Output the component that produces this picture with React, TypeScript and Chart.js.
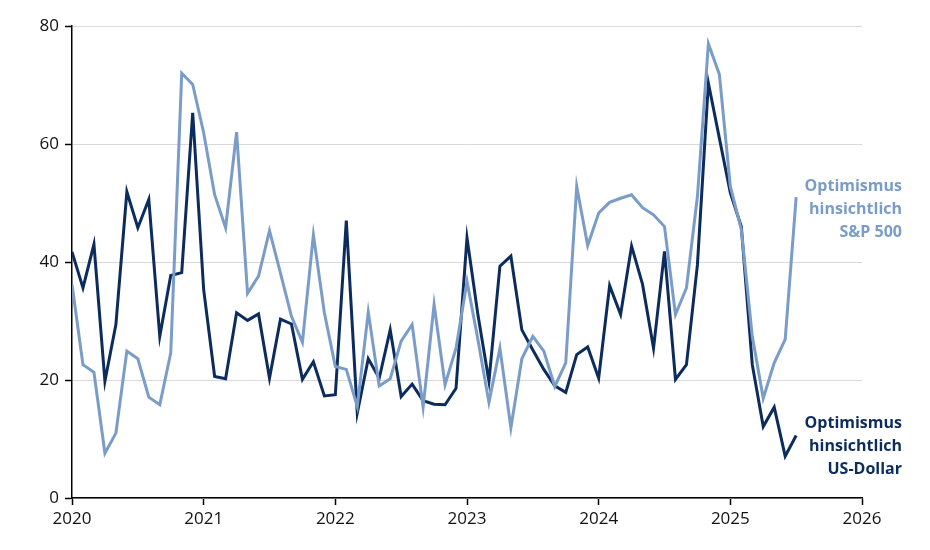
import React, { useEffect, useRef } from "react";
import { Chart, registerables } from "chart.js";

Chart.register(...registerables);

const startYear = 2020;
const yearTicks = ["2020", "2021", "2022", "2023", "2024", "2025", "2026"];
const yTicks = [0, 20, 40, 60, 80];

// Monthly values, Jan 2020 – Jul 2025
const usdOptimism = [
  41.7, 35.6, 43.0, 19.8, 29.4, 51.9, 45.8, 50.6, 27.4, 37.7, 38.2, 65.3,
  35.3, 20.6, 20.2, 31.4, 30.1, 31.2, 20.3, 30.3, 29.5, 20.1, 23.1, 17.3,
  17.5, 47.0, 14.4, 23.6, 20.3, 28.5, 17.2, 19.3, 16.5, 15.9, 15.8, 18.6,
  44.1, 31.0, 19.8, 39.3, 41.0, 28.5, 25.1, 21.8, 19.0, 17.9, 24.3, 25.6,
  20.3, 36.0, 31.1, 42.7, 36.2, 25.4, 41.8, 20.1, 22.6, 39.5, 70.3, 61.0,
  51.7, 46.0, 22.6, 12.1, 15.4, 7.1, 10.6,
];

const spxOptimism = [
  36.2, 22.6, 21.3, 7.6, 11.0, 24.9, 23.6, 17.1, 15.8, 24.6, 72.0, 70.1,
  61.9, 51.4, 45.8, 62.0, 34.7, 37.6, 45.3, 38.1, 30.8, 26.4, 44.6, 31.4,
  22.3, 21.8, 15.5, 31.5, 19.0, 20.2, 26.6, 29.4, 15.4, 32.8, 19.2, 25.4,
  36.7, 26.8, 16.2, 25.4, 11.9, 23.6, 27.4, 24.9, 18.9, 22.9, 52.8, 42.8,
  48.3, 50.1, 50.8, 51.4, 49.2, 48.0, 46.0, 31.1, 35.6, 51.1, 77.0, 71.8,
  52.8, 45.5, 27.4, 16.9, 22.9, 26.9, 51.0,
];

const spxLabel = ["Optimismus", "hinsichtlich", "S&P 500"];
const usdLabel = ["Optimismus", "hinsichtlich", "US-Dollar"];

const DARK = "#0d2c5e";
const LIGHT = "#7a9cc8";

const toPoints = (arr: number[]) => arr.map((v, i) => ({ x: i, y: v }));

const labelPlugin = {
  id: "seriesLabels",
  afterDraw(chart: any) {
    const ctx = chart.ctx;
    ctx.save();
    ctx.font = "bold 16px 'Open Sans', sans-serif";
    ctx.textAlign = "right";
    ctx.textBaseline = "middle";
    const x = 902;
    ctx.fillStyle = LIGHT;
    spxLabel.forEach((t, i) => ctx.fillText(t, x, 186 + i * 23));
    ctx.fillStyle = DARK;
    usdLabel.forEach((t, i) => ctx.fillText(t, x, 423 + i * 23));
    ctx.restore();
  },
};

export default function App() {
  const ref = useRef<HTMLCanvasElement>(null);

  useEffect(() => {
    if (!ref.current) return;
    const chart = new Chart(ref.current, {
      type: "line",
      data: {
        datasets: [
          {
            label: "Optimismus hinsichtlich S&P 500",
            data: toPoints(spxOptimism),
            borderColor: LIGHT,
            borderWidth: 3,
            pointRadius: 0,
            tension: 0,
          },
          {
            label: "Optimismus hinsichtlich US-Dollar",
            data: toPoints(usdOptimism),
            borderColor: DARK,
            borderWidth: 3,
            pointRadius: 0,
            tension: 0,
          },
        ],
      },
      options: {
        animation: false,
        responsive: false,
        maintainAspectRatio: false,
        layout: { padding: { top: 26, right: 68, left: 0, bottom: 0 } },
        plugins: {
          legend: { display: false },
          tooltip: { enabled: false },
        },
        scales: {
          x: {
            type: "linear",
            min: 0,
            max: (yearTicks.length - 1) * 12,
            afterBuildTicks: (scale: any) => {
              scale.ticks = yearTicks.map((_, i) => ({ value: i * 12 }));
            },
            ticks: {
              callback: (v: any) => String(startYear + Math.round(Number(v) / 12)),
              color: "#111",
              font: { family: "'Open Sans', sans-serif", size: 17 },
              padding: 4,
              maxRotation: 0,
            },
            grid: {
              drawOnChartArea: false,
              drawTicks: true,
              tickLength: 7,
              tickColor: "#000",
              tickWidth: 1.5,
            },
            border: { display: true, color: "#000", width: 1.5 },
            afterFit: (scale: any) => {
              scale.height = 52;
            },
          },
          y: {
            min: 0,
            max: 80,
            afterBuildTicks: (scale: any) => {
              scale.ticks = yTicks.map((v) => ({ value: v }));
            },
            ticks: {
              color: "#111",
              font: { family: "'Open Sans', sans-serif", size: 17 },
              padding: 6,
            },
            grid: {
              color: "#d9d9d9",
              lineWidth: 1,
              drawTicks: true,
              tickLength: 7,
              tickColor: "#000",
              tickWidth: 1.5,
            },
            border: { display: true, color: "#000", width: 1.5 },
            afterFit: (scale: any) => {
              scale.width = 72;
            },
          },
        },
      },
      plugins: [labelPlugin],
    });
    return () => chart.destroy();
  }, []);

  return (
    <div style={{ position: "fixed", left: 0, top: 0, width: 930, height: 550, background: "#fff" }}>
      <canvas ref={ref} width={930} height={550} style={{ width: 930, height: 550 }} />
    </div>
  );
}
